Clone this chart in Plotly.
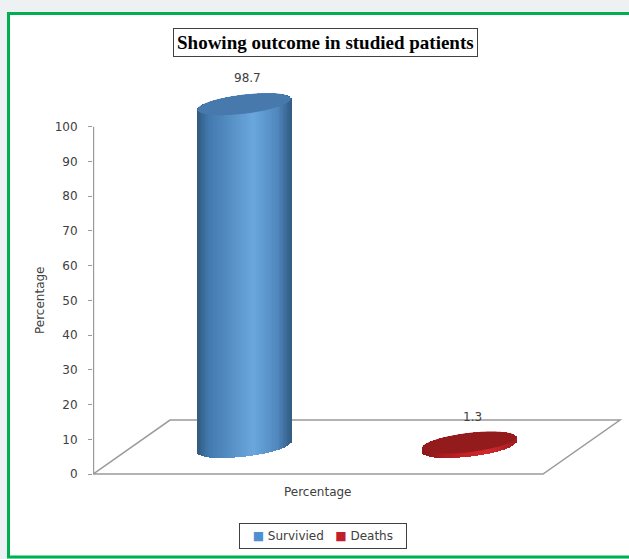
import numpy as np
import plotly.graph_objects as go

# ---------------- data ----------------
categories = ["Survivied", "Deaths"]
values = [98.7, 1.3]
value_labels = ["98.7", "1.3"]
tick_values = [0, 10, 20, 30, 40, 50, 60, 70, 80, 90, 100]
y_title = "Percentage"
x_title = "Percentage"
chart_title = "Showing outcome in studied patients"

# ---------------- style ----------------
W, H = 629, 559
M_L, M_R, M_T, M_B = 93, 5, 85, 78
Y_RANGE = [-2, 112]
PX_X = 225.0                       # pixels per category unit
PLOT_W = W - M_L - M_R
PLOT_H = H - M_T - M_B
PX_Y = PLOT_H / (Y_RANGE[1] - Y_RANGE[0])
X_LEFT = -0.5 - 38.5 / PX_X
X_RANGE = [X_LEFT, X_LEFT + PLOT_W / PX_X]
DEPTH_X = 38.5 / PX_X              # half-depth shift in x units
DEPTH_Y = 27.0 / PX_Y              # half-depth shift in y units

CYL_A, CYL_B, CYL_T = 47.0, 9.5, -0.12   # ellipse semi-axes (px) and tilt
N_STRIPS = 70

side_stops = {
    "Survivied": [(0.0, "#30597f"), (0.12, "#4278ad"), (0.6, "#6aa7dd"), (0.85, "#5088bf"), (1.0, "#335c84")],
    "Deaths": [(0.0, "#8a1719"), (0.35, "#b81f25"), (0.7, "#d3282e"), (1.0, "#a01c20")],
}
cap_colors = {"Survivied": "#4779ad", "Deaths": "#931b1c"}
legend_colors = {"Survivied": "#4f91d0", "Deaths": "#c0202a"}
grey = "#9a9a9a"
text_col = "#404040"
font_fam = "DejaVu Sans"


def hex2rgb(h):
    return np.array([int(h[i:i + 2], 16) for i in (1, 3, 5)], float)


def grad(stops, t):
    for (t0, c0), (t1, c1) in zip(stops[:-1], stops[1:]):
        if t <= t1:
            f = (t - t0) / (t1 - t0) if t1 > t0 else 0
            c = hex2rgb(c0) * (1 - f) + hex2rgb(c1) * f
            return "rgb(%d,%d,%d)" % tuple(c.round())
    return stops[-1][1]


def ell_bounds(px):
    c, s = np.cos(CYL_T), np.sin(CYL_T)
    A = s * s / CYL_A ** 2 + c * c / CYL_B ** 2
    B = 2 * px * c * s * (1 / CYL_A ** 2 - 1 / CYL_B ** 2)
    C = px * px * (c * c / CYL_A ** 2 + s * s / CYL_B ** 2) - 1
    d = max(B * B - 4 * A * C, 0)
    return (-B - np.sqrt(d)) / (2 * A), (-B + np.sqrt(d)) / (2 * A)  # upper, lower (screen)


def ellipse_path(xc, yc):
    t = np.linspace(0, 2 * np.pi, 100)
    u, v = CYL_A * np.cos(t), CYL_B * np.sin(t)
    px = u * np.cos(CYL_T) - v * np.sin(CYL_T)
    py = u * np.sin(CYL_T) + v * np.cos(CYL_T)
    xs = xc + px / PX_X
    ys = yc - py / PX_Y
    return "M " + " L ".join(f"{a:.5f},{b:.4f}" for a, b in zip(xs, ys)) + " Z"


def px2paper(x, y):
    return (x - M_L) / PLOT_W, (H - M_B - y) / PLOT_H


fig = go.Figure()

shapes = []
# background card with green border
x0, y0 = px2paper(8.5, 13.5)
x1, y1 = px2paper(720, 557)
shapes.append(dict(type="rect", xref="paper", yref="paper", x0=x0, y0=y1, x1=x1, y1=y0,
                   fillcolor="white", line=dict(color="#00b050", width=3), layer="below"))

# floor parallelogram
nc = len(categories)
fl = [(-0.5 - DEPTH_X, 0), (nc - 0.5 - DEPTH_X, 0), (nc - 0.5 + DEPTH_X, 2 * DEPTH_Y), (-0.5 + DEPTH_X, 2 * DEPTH_Y)]
shapes.append(dict(type="path", xref="x", yref="y", layer="below",
                   path="M " + " L ".join(f"{a:.5f},{b:.4f}" for a, b in fl) + " Z",
                   line=dict(color=grey, width=1.5), fillcolor="rgba(0,0,0,0)"))
# value axis line
shapes.append(dict(type="line", xref="x", yref="y", x0=X_RANGE[0] + 0.6 / PX_X, x1=X_RANGE[0] + 0.6 / PX_X,
                   y0=tick_values[0], y1=tick_values[-1], line=dict(color=grey, width=1.2), layer="below"))

annotations = []
strip_w = 2 * CYL_A / N_STRIPS
for i, (cat, v, lab) in enumerate(zip(categories, values, value_labels)):
    y_base = DEPTH_Y
    y_top = DEPTH_Y + v
    for k in range(N_STRIPS):
        pxc = -CYL_A + (k + 0.5) * strip_w
        up, low = ell_bounds(pxc)
        b = y_base - low / PX_Y
        top = y_top - up / PX_Y
        fig.add_trace(go.Bar(
            x=[i], y=[top - b], base=[b], name=cat,
            width=[strip_w * 1.5 / PX_X], offset=[(pxc - strip_w / 2) / PX_X],
            marker=dict(color=grad(side_stops[cat], (k + 0.5) / N_STRIPS), line=dict(width=0)),
            showlegend=False, hoverinfo="skip"))
    shapes.append(dict(type="path", xref="x", yref="y", layer="above",
                       path=ellipse_path(i, y_top), fillcolor=cap_colors[cat],
                       line=dict(width=0)))
    annotations.append(dict(x=i, y=y_top, xref="x", yref="y", text=lab, showarrow=False,
                            xanchor="center", yanchor="middle",
                            yshift=26, xshift=3, font=dict(family=font_fam, size=12, color=text_col)))

# titles
tx, ty = px2paper(325.5, 42.5)
annotations.append(dict(x=tx, y=ty, xref="paper", yref="paper", text=f"<b>{chart_title}</b>",
                        xanchor="center", yanchor="middle",
                        showarrow=False, font=dict(family="Liberation Serif", size=19, color="black"),
                        bordercolor="#404040", borderwidth=1, borderpad=3, bgcolor="white"))
ax_, ay_ = px2paper(318, 492)
annotations.append(dict(x=ax_, y=ay_, xref="paper", yref="paper", text=x_title, showarrow=False,
                        xanchor="center", yanchor="middle",
                        font=dict(family=font_fam, size=12, color=text_col)))
yx_, yy_ = px2paper(40, 300)
annotations.append(dict(x=yx_, y=yy_, xref="paper", yref="paper", text=y_title, showarrow=False,
                        xanchor="center", yanchor="middle",
                        textangle=-90, font=dict(family=font_fam, size=12, color=text_col)))

# legend box
legend_text = "&nbsp;&nbsp;" + "&nbsp;&nbsp;&nbsp;".join(
    f'<span style="color:{legend_colors[c]}">■</span> {c}' for c in categories) + "&nbsp;&nbsp;"
lx, ly = px2paper(322.5, 535.5)
annotations.append(dict(x=lx, y=ly, xref="paper", yref="paper", text=legend_text, showarrow=False,
                        xanchor="center", yanchor="middle",
                        font=dict(family=font_fam, size=12, color=text_col),
                        bordercolor="#404040", borderwidth=1, borderpad=5, bgcolor="white"))

fig.update_layout(
    width=W, height=H, margin=dict(l=M_L, r=M_R, t=M_T, b=M_B),
    paper_bgcolor="#edf1f4", plot_bgcolor="rgba(0,0,0,0)",
    barmode="overlay", bargap=0,
    shapes=shapes, annotations=annotations,
    xaxis=dict(range=X_RANGE, visible=False, fixedrange=True),
    yaxis=dict(range=Y_RANGE, tickvals=tick_values, showgrid=False, zeroline=False, showline=False,
               ticks="outside", ticklen=4, tickcolor=grey, tickwidth=1, ticklabelstandoff=8,
               tickfont=dict(family=font_fam, size=12, color=text_col), fixedrange=True),
    showlegend=False,
)

fig.write_html("out.html")
